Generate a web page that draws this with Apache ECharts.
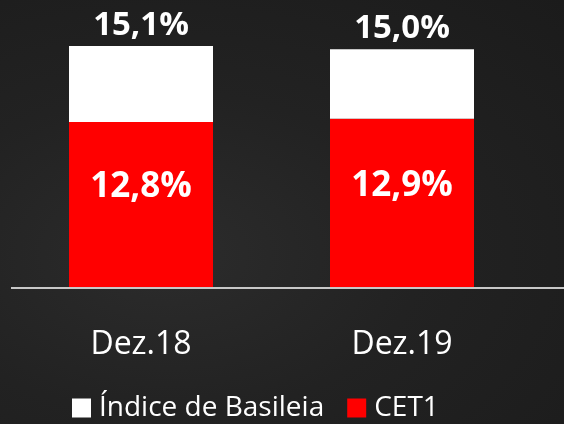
<!DOCTYPE html>
<html>
<head>
<meta charset="utf-8">
<script src="https://cdn.jsdelivr.net/npm/echarts@6/dist/echarts.min.js"></script>
<style>
html,body{margin:0;padding:0;width:564px;height:424px;overflow:hidden;}
#c{width:564px;height:424px;background:radial-gradient(ellipse at 30% 60%, #2c2c2c 0%, #222 45%, #1b1b1b 100%);}
</style>
</head>
<body>
<div id="c"></div>
<script>
const categories = ['Dez.18', 'Dez.19'];
const cet1 = [12.8, 12.9];
const basileia = [15.1, 15.0];
const seriesNames = ['Índice de Basileia', 'CET1'];

const fmt = v => v.toFixed(1).replace('.', ',') + '%';
const topPart = basileia.map((v, i) => +(v - cet1[i]).toFixed(2));

const chart = echarts.init(document.getElementById('c'), null, {renderer: 'canvas'});
const font = '"Open Sans", "Noto Sans", sans-serif';
chart.setOption({
  backgroundColor: 'transparent',
  animation: false,
  grid: {left: 10.5, right: 31.5, top: 46, bottom: 137},
  legend: {
    data: seriesNames,
    top: 389,
    left: 67,
    itemWidth: 19,
    itemHeight: 19,
    itemGap: 23,
    icon: 'rect',
    textStyle: {color: '#fff', fontSize: 28, fontFamily: font, padding: [0, 0, 0, 3]}
  },
  xAxis: {
    type: 'category',
    data: categories,
    axisLine: {show: false},
    axisTick: {show: false},
    axisLabel: {color: '#fff', fontSize: 32, fontFamily: font, margin: 42}
  },
  yAxis: {
    type: 'value', min: 7.8, max: 15.1, show: false, splitLine: {show: false}
  },
  graphic: [{
    type: 'line',
    shape: {x1: 11, y1: 288, x2: 564, y2: 288},
    style: {stroke: '#c8c8c8', lineWidth: 2},
    z: 10
  }],
  series: [
    {
      name: 'CET1', type: 'bar', stack: 'a', data: cet1, barWidth: 144,
      itemStyle: {color: '#ff0000'},
      label: {show: true, position: 'inside', offset: [0, -17], formatter: p => fmt(p.value),
        color: '#fff', fontSize: 35, fontWeight: 'bold', fontFamily: font}
    },
    {
      name: 'Índice de Basileia', type: 'bar', stack: 'a', data: topPart, barWidth: 144,
      itemStyle: {color: '#ffffff'},
      label: {show: true, position: 'top', distance: 4, formatter: p => fmt(basileia[p.dataIndex]),
        color: '#fff', fontSize: 33, fontWeight: 'bold', fontFamily: font}
    }
  ]
});
</script>
</body>
</html>
